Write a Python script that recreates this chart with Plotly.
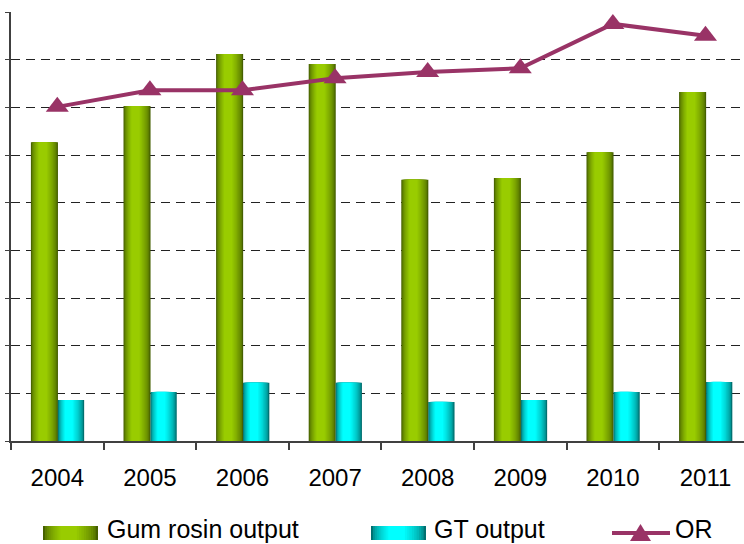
import plotly.graph_objects as go

years = ["2004", "2005", "2006", "2007", "2008", "2009", "2010", "2011"]
gum_rosin = [6.27, 7.03, 8.12, 7.91, 5.48, 5.52, 6.06, 7.32]
gt_output = [0.86, 1.03, 1.22, 1.22, 0.82, 0.86, 1.03, 1.24]
or_values = [7.01, 7.36, 7.36, 7.61, 7.74, 7.82, 8.75, 8.50]
legend_names = ["Gum rosin output", "GT output", "OR"]

W, H = 744, 544
ML, MR, MT, MB = 11, 0, 12, 103
PW, PH = W - ML - MR, H - MT - MB

GREEN_DARK, GREEN_BRIGHT = (70, 96, 0), (153, 204, 0)
CYAN_DARK, CYAN_BRIGHT = (0, 112, 112), (0, 255, 255)
OR_COLOR = "#993366"
FONT = "Liberation Sans, Arial, sans-serif"


def mix(a, b, t):
    return "rgb(%d,%d,%d)" % tuple(round(a[i] + (b[i] - a[i]) * t) for i in range(3))


def layers(n, peak, plateau=0.7):
    out = []
    for k in range(n):
        t = plateau * k / (n - 1)
        lo = t * peak
        hi = 1 - t * (1 - peak)
        out.append((lo, hi, (k / (n - 1)) ** 0.6))
    return out


fig = go.Figure()

N = 10
# Gum rosin bars (cylinder-like shading via nested layers)
g_off, g_w = -0.285, 0.292
for lo, hi, c in layers(N, 0.42):
    fig.add_trace(go.Bar(
        x=years, y=gum_rosin, offset=g_off + lo * g_w, width=(hi - lo) * g_w,
        marker=dict(color=mix(GREEN_DARK, GREEN_BRIGHT, c), line=dict(width=0)),
        showlegend=False, hoverinfo="skip" if lo > 0 else None, name=legend_names[0]))

c_off, c_w = 0.006, 0.284
for lo, hi, c in layers(N, 0.38):
    fig.add_trace(go.Bar(
        x=years, y=gt_output, offset=c_off + lo * c_w, width=(hi - lo) * c_w,
        marker=dict(color=mix(CYAN_DARK, CYAN_BRIGHT, c), line=dict(width=0)),
        showlegend=False, hoverinfo="skip" if lo > 0 else None, name=legend_names[1]))

fig.add_trace(go.Scatter(
    x=years, y=or_values, mode="lines+markers", name=legend_names[2],
    line=dict(color=OR_COLOR, width=4),
    marker=dict(symbol="triangle-up", size=20, color=OR_COLOR),
    showlegend=False))


def px(x):
    return (x - ML) / PW


def py(y):
    return (H - MB - y) / PH


shapes = []
annotations = []


def swatch(x0, x1, y0, y1, dark, bright):
    for lo, hi, c in layers(N, 0.45):
        shapes.append(dict(type="rect", xref="paper", yref="paper",
                           x0=px(x0 + lo * (x1 - x0)), x1=px(x0 + hi * (x1 - x0)),
                           y0=py(y1), y1=py(y0), line=dict(width=0),
                           fillcolor=mix(dark, bright, c), layer="above"))


swatch(43, 98, 526, 540, GREEN_DARK, GREEN_BRIGHT)
swatch(371, 426, 526, 540, CYAN_DARK, CYAN_BRIGHT)
shapes.append(dict(type="line", xref="paper", yref="paper", x0=px(612), x1=px(670),
                   y0=py(533), y1=py(533), line=dict(color=OR_COLOR, width=4)))
shapes.append(dict(type="path", xref="paper", yref="paper", fillcolor=OR_COLOR,
                   line=dict(width=0),
                   path="M %f,%f L %f,%f L %f,%f Z" % (px(630), py(541), px(651), py(541), px(640.5), py(524))))

for x, name in [(106, legend_names[0]), (433, legend_names[1]), (674, legend_names[2])]:
    annotations.append(dict(xref="paper", yref="paper", x=px(x), y=py(543.5),
                            xanchor="left", yanchor="bottom", showarrow=False, borderpad=0,
                            text=name, font=dict(size=25, color="black", family=FONT)))

fig.update_layout(
    width=W, height=H,
    margin=dict(l=ML, r=MR, t=MT, b=MB),
    paper_bgcolor="white", plot_bgcolor="white",
    barmode="overlay",
    showlegend=False,
    shapes=shapes, annotations=annotations,
    font=dict(family=FONT, color="black"),
)
fig.update_xaxes(
    type="category", range=[-0.5, 7.416],
    showline=True, linecolor="#404040", linewidth=2,
    ticks="outside", tickson="boundaries", ticklen=7, tickcolor="#404040", tickwidth=1.5,
    tickfont=dict(size=24, family=FONT, color="black"),
    ticklabelstandoff=14,
    showgrid=False, fixedrange=True,
)
fig.update_yaxes(
    range=[0, 9], dtick=1, showticklabels=False,
    showline=True, linecolor="#404040", linewidth=2,
    ticks="outside", ticklen=4, tickcolor="#404040",
    showgrid=True, gridcolor="#222222", gridwidth=1, griddash="9px,6px",
    zeroline=False, fixedrange=True,
)

fig.write_html("out.html", config={"displayModeBar": False},
               post_script="document.body.style.margin='0';document.body.style.overflow='hidden';")
